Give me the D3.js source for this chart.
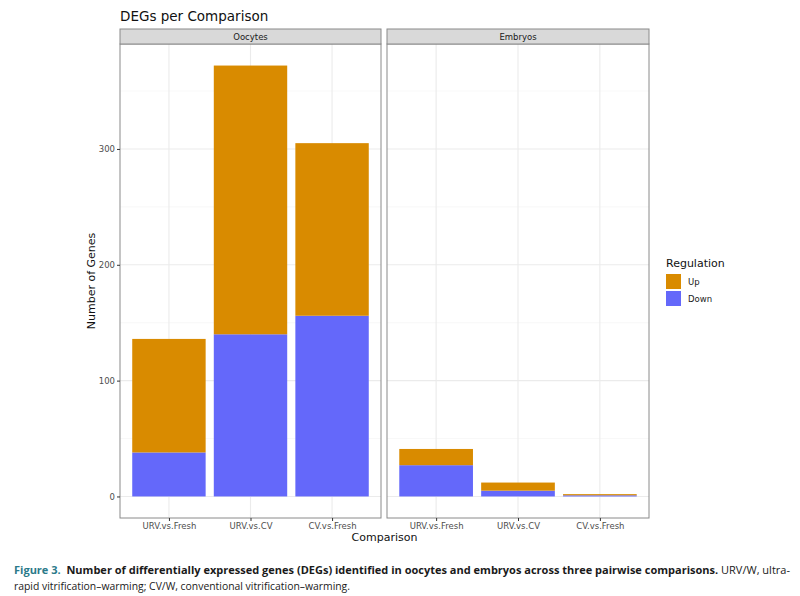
<!DOCTYPE html>
<html>
<head>
<meta charset="utf-8">
<script src="https://cdn.jsdelivr.net/npm/d3@7"></script>
<style>
  body { margin: 0; background: #fff; }
  svg { display: block; }
</style>
</head>
<body>
<svg id="chart" width="800" height="596"></svg>
<script>
// data
var panels = ["Oocytes", "Embryos"];
var comparisons = ["URV.vs.Fresh", "URV.vs.CV", "CV.vs.Fresh"];
var regulation = ["Up", "Down"];
var oocytesDown = [38, 140, 156];
var oocytesUp = [98, 232, 149];
var embryosDown = [27, 5, 1];
var embryosUp = [14, 7, 1];
var yTicks = [0, 100, 200, 300];
var yMinor = [50, 150, 250, 350];

var colors = { Up: "#D98B00", Down: "#6468FA" };

var svg = d3.select("#chart");

var plotTop = 44, plotBottom = 518;
var panelX = [[120, 381], [387, 649]];
var stripH = 15;

var values = {
    Oocytes: { Up: oocytesUp, Down: oocytesDown },
    Embryos: { Up: embryosUp, Down: embryosDown }
};

var maxTotal = d3.max(panels, function(p) {
    return d3.max(comparisons, function(c, i) { return values[p].Up[i] + values[p].Down[i]; });
});
var pad = maxTotal * 0.05;

var y = d3.scaleLinear()
    .domain([-pad, maxTotal + pad])
    .range([plotBottom, plotTop]);

// title
svg.append("text")
    .attr("x", 120).attr("y", 21)
    .attr("font-family", "DejaVu Sans").attr("font-size", 13.5)
    .attr("fill", "#111")
    .text("DEGs per Comparison");

panels.forEach(function(p, pi) {

    var x0 = panelX[pi][0], x1 = panelX[pi][1];

    // ggplot style discrete scale: centres at 1..3, limits 0.4..3.6
    var unit = (x1 - x0) / 3.2;
    var xc = d3.scalePoint().domain(comparisons).range([x0 + unit * 0.6, x1 - unit * 0.6]);
    var bw = unit * 0.9;

    var g = svg.append("g");

    g.append("rect")
        .attr("x", x0).attr("y", plotTop)
        .attr("width", x1 - x0).attr("height", plotBottom - plotTop)
        .attr("fill", "#fff");

    // minor grid
    g.selectAll(".ymin").data(yMinor).enter().append("line")
        .attr("x1", x0).attr("x2", x1)
        .attr("y1", function(d) { return y(d); }).attr("y2", function(d) { return y(d); })
        .attr("stroke", "#F3F3F3").attr("stroke-width", 0.6);

    // major grid
    g.selectAll(".ymaj").data(yTicks).enter().append("line")
        .attr("x1", x0).attr("x2", x1)
        .attr("y1", function(d) { return y(d); }).attr("y2", function(d) { return y(d); })
        .attr("stroke", "#EBEBEB").attr("stroke-width", 1.1);

    g.selectAll(".xmaj").data(comparisons).enter().append("line")
        .attr("x1", function(d) { return xc(d); }).attr("x2", function(d) { return xc(d); })
        .attr("y1", plotTop).attr("y2", plotBottom)
        .attr("stroke", "#EBEBEB").attr("stroke-width", 1.1);

    // stacked bars: Down at bottom, Up on top
    var rows = comparisons.map(function(c, i) {
        return { comp: c, Up: values[p].Up[i], Down: values[p].Down[i] };
    });
    var stacked = d3.stack().keys(["Down", "Up"])(rows);

    stacked.forEach(function(layer) {
        g.selectAll(".bar-" + layer.key).data(layer).enter().append("rect")
            .attr("x", function(d) { return xc(d.data.comp) - bw / 2; })
            .attr("width", bw)
            .attr("y", function(d) { return y(d[1]); })
            .attr("height", function(d) { return Math.max(0, y(d[0]) - y(d[1])); })
            .attr("fill", colors[layer.key]);
    });

    // panel border
    g.append("rect")
        .attr("x", x0).attr("y", plotTop)
        .attr("width", x1 - x0).attr("height", plotBottom - plotTop)
        .attr("fill", "none").attr("stroke", "#8a8a8a").attr("stroke-width", 1);

    // strip
    g.append("rect")
        .attr("x", x0).attr("y", plotTop - stripH)
        .attr("width", x1 - x0).attr("height", stripH)
        .attr("fill", "#D9D9D9").attr("stroke", "#8a8a8a").attr("stroke-width", 1);

    g.append("text")
        .attr("x", (x0 + x1) / 2).attr("y", plotTop - 4.5)
        .attr("text-anchor", "middle")
        .attr("font-family", "DejaVu Sans").attr("font-size", 8.5)
        .attr("fill", "#1a1a1a")
        .text(p);

    // x axis
    var xAxis = d3.axisBottom(xc).tickSize(3).tickPadding(2);
    var ax = g.append("g")
        .attr("transform", "translate(0," + plotBottom + ")")
        .call(xAxis);
    ax.select(".domain").remove();
    ax.selectAll(".tick line").attr("stroke", "#333");
    ax.selectAll("text")
        .attr("font-family", "DejaVu Sans").attr("font-size", 8.5)
        .attr("fill", "#4d4d4d");
});

// y axis
var yAxis = d3.axisLeft(y).tickValues(yTicks).tickSize(3).tickPadding(2);
var ay = svg.append("g")
    .attr("transform", "translate(120,0)")
    .call(yAxis);
ay.select(".domain").remove();
ay.selectAll(".tick line").attr("stroke", "#333");
ay.selectAll("text")
    .attr("font-family", "DejaVu Sans").attr("font-size", 8.5)
    .attr("fill", "#4d4d4d");

// axis titles
svg.append("text")
    .attr("transform", "translate(95," + ((plotTop + plotBottom) / 2) + ") rotate(-90)")
    .attr("text-anchor", "middle")
    .attr("font-family", "DejaVu Sans").attr("font-size", 11)
    .attr("fill", "#111")
    .text("Number of Genes");

svg.append("text")
    .attr("x", (120 + 649) / 2).attr("y", 541)
    .attr("text-anchor", "middle")
    .attr("font-family", "DejaVu Sans").attr("font-size", 11)
    .attr("fill", "#111")
    .text("Comparison");

// legend
var lg = svg.append("g").attr("transform", "translate(666,0)");
lg.append("text")
    .attr("x", 0).attr("y", 267)
    .attr("font-family", "DejaVu Sans").attr("font-size", 11)
    .attr("fill", "#111")
    .text("Regulation");

lg.selectAll(".key").data(regulation).enter().append("rect")
    .attr("x", 0)
    .attr("y", function(d, i) { return 274 + i * 17; })
    .attr("width", 15).attr("height", 15)
    .attr("fill", function(d) { return colors[d]; });

lg.selectAll(".keylab").data(regulation).enter().append("text")
    .attr("x", 22)
    .attr("y", function(d, i) { return 285 + i * 17; })
    .attr("font-family", "DejaVu Sans").attr("font-size", 8.5)
    .attr("fill", "#1a1a1a")
    .text(function(d) { return d; });

// caption
var cap = svg.append("g")
    .attr("font-family", "Open Sans").attr("font-size", 11);

var line1 = cap.append("text")
    .attr("x", 14).attr("y", 574)
    .attr("textLength", 776).attr("lengthAdjust", "spacingAndGlyphs");
line1.append("tspan").attr("font-weight", "bold").attr("fill", "#2B7A8A").text("Figure 3.");
line1.append("tspan").attr("font-weight", "bold").attr("fill", "#1a1a1a")
    .text("\u00a0 Number of differentially expressed genes (DEGs) identified in oocytes and embryos across three pairwise comparisons.");
line1.append("tspan").attr("fill", "#1a1a1a").text(" URV/W, ultra-");

cap.append("text")
    .attr("x", 14).attr("y", 590)
    .attr("textLength", 336).attr("lengthAdjust", "spacingAndGlyphs")
    .attr("fill", "#1a1a1a")
    .text("rapid vitrification\u2013warming; CV/W, conventional vitrification\u2013warming.");
</script>
</body>
</html>
